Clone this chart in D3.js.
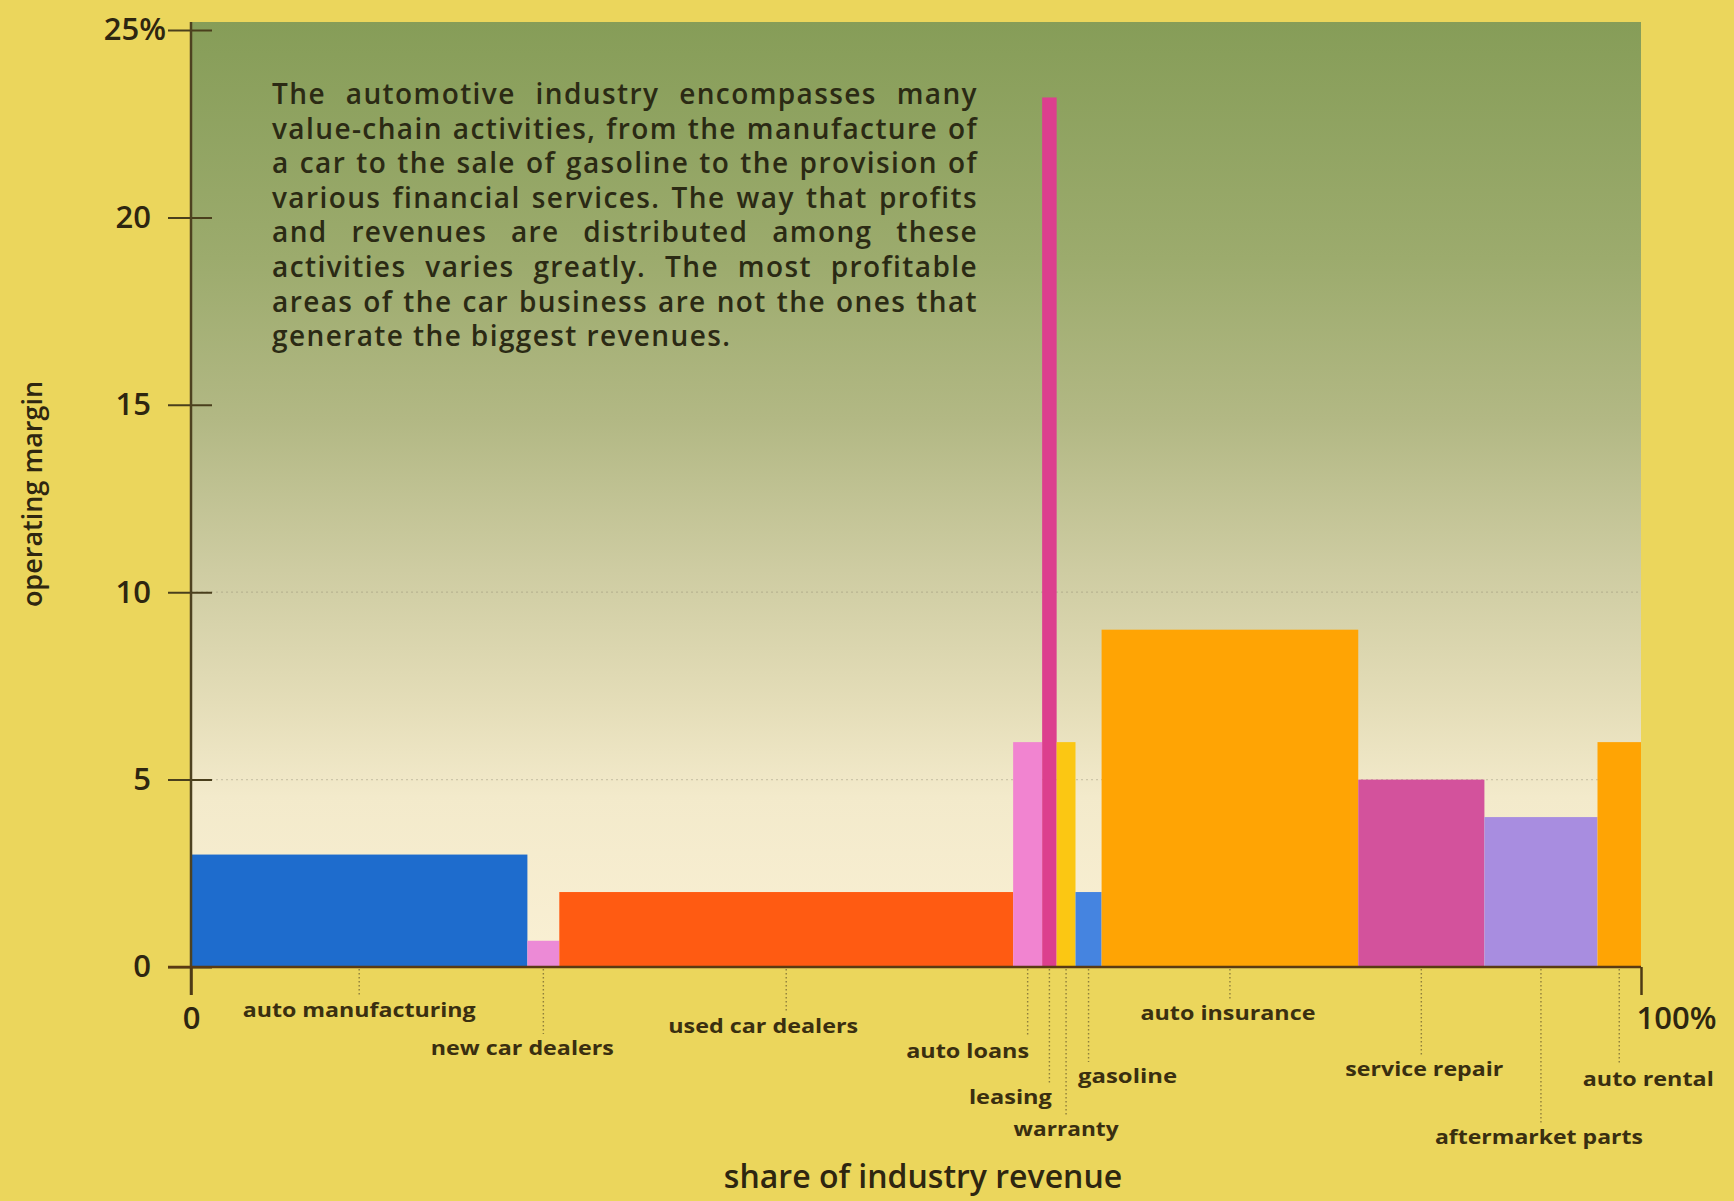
<!DOCTYPE html>
<html><head><meta charset="utf-8">
<script src="https://cdn.jsdelivr.net/npm/d3@7"></script>
<style>
html,body{margin:0;padding:0;background:#ead65f;}
svg{display:block;}
text{font-family:"Open Sans","Noto Sans",sans-serif;}
</style></head><body>
<svg id="chart" width="1734" height="1201"></svg>
<script>
// ---- data ----
const categories = ["auto manufacturing","new car dealers","used car dealers","auto loans","leasing","warranty","gasoline","auto insurance","service repair","aftermarket parts","auto rental"];
const revenueShare = [23.2, 2.2, 31.3, 2.0, 1.0, 1.3, 1.8, 17.7, 8.7, 7.8, 3.0];   // % of industry revenue
const operatingMargin = [3, 0.7, 2, 6, 23.2, 6, 2, 9, 5, 4, 6];                    // %
const yTicks = [0, 5, 10, 15, 20, 25];
const yTickLabels = ["0", "5", "10", "15", "20", "25%"];
const xTicks = [0, 100];
const xTickLabels = ["0", "100%"];
const description = [
  "The automotive industry encompasses many",
  "value-chain activities, from the manufacture of",
  "a car to the sale of gasoline to the provision of",
  "various financial services. The way that profits",
  "and revenues are distributed among these",
  "activities varies greatly. The most profitable",
  "areas of the car business are not the ones that",
  "generate the biggest revenues."
];
const xTitle = "share of industry revenue";
const yTitle = "operating margin";

// ---- styles / layout (kept separate from data) ----
const barColors = ["#1e6ccd","#ec8ad6","#ff5b12","#f184d0","#dc3f8e","#fbc713","#4584e0","#ffa404","#d3529c","#a88de0","#ffa404"];
// label placement: dx from bar centre, y centre, rendered width
const labelLayout = [
  {dx: 0,  y: 1010, w: 233},
  {dx: -21,y: 1048, w: 183},
  {dx: -23,y: 1026, w: 190},
  {dx: -60,y: 1051, w: 123},
  {dx: -39,y: 1097, w: 83},
  {dx: 0,  y: 1129, w: 105},
  {dx: 39, y: 1076, w: 99},
  {dx: -2, y: 1013, w: 175},
  {dx: 3,  y: 1069, w: 158},
  {dx: -2, y: 1137, w: 208},
  {dx: 29, y: 1079, w: 131}
];

const svg = d3.select("#chart");
const W = 1734, H = 1201;
svg.append("rect").attr("width", W).attr("height", H).attr("fill", "#ebd65c");

const x = d3.scaleLinear().domain([0, 100]).range([191, 1641]);
const y = d3.scaleLinear().domain([0, 25]).range([967, 30]);

// gradient plot background
const defs = svg.append("defs");
const grad = defs.append("linearGradient").attr("id", "bg")
  .attr("gradientUnits", "userSpaceOnUse")
  .attr("x1", 0).attr("x2", 0).attr("y1", y(25) - 8).attr("y2", y(0));
[[0,"#869d58"],[0.25,"#9cab6d"],[0.42,"#b2b884"],[0.58,"#cecca2"],[0.72,"#e4ddb8"],[0.82,"#f3eacb"],[1,"#faf0d4"]]
  .forEach(([o,c]) => grad.append("stop").attr("offset", o).attr("stop-color", c));
svg.append("rect")
  .attr("x", x(0)).attr("y", y(25) - 8)
  .attr("width", x(100) - x(0)).attr("height", y(0) - y(25) + 8)
  .attr("fill", "url(#bg)");

// faint dotted gridlines
svg.append("g").selectAll("line").data([5, 10]).join("line")
  .attr("x1", x(0)).attr("x2", x(100))
  .attr("y1", d => y(d)).attr("y2", d => y(d))
  .attr("stroke", "#8a8470").attr("stroke-opacity", 0.35)
  .attr("stroke-dasharray", "2,3").attr("stroke-width", 1.2);

// description paragraph (justified)
const para = svg.append("g");
const pLeft = 272, pRight = 978, pTop = 104, pLead = 34.6;
description.forEach((line, i) => {
  const t = para.append("text")
    .attr("x", pLeft).attr("y", pTop + i * pLead)
    .attr("font-size", 28).attr("font-weight", 600)
    .attr("letter-spacing", 1.4)
    .attr("fill", "#2b2a14")
    .text(line);
  if (i < description.length - 1) {
    const natural = t.node().getComputedTextLength();
    const spaces = (line.match(/ /g) || []).length;
    if (spaces > 0) t.attr("word-spacing", ((pRight - pLeft) - natural) / spaces);
  }
});

// bars
const starts = revenueShare.map((d, i) => d3.sum(revenueShare.slice(0, i)));
svg.append("g").selectAll("rect").data(categories).join("rect")
  .attr("x", (d, i) => x(starts[i]))
  .attr("width", (d, i) => x(starts[i] + revenueShare[i]) - x(starts[i]))
  .attr("y", (d, i) => y(operatingMargin[i]))
  .attr("height", (d, i) => y(0) - y(operatingMargin[i]))
  .attr("fill", (d, i) => barColors[i]);

// leader lines
const centre = i => x(starts[i] + revenueShare[i] / 2);
svg.append("g").selectAll("line").data(categories).join("line")
  .attr("x1", (d, i) => centre(i)).attr("x2", (d, i) => centre(i))
  .attr("y1", y(0) + 2).attr("y2", (d, i) => labelLayout[i].y - 14)
  .attr("stroke", "#6f6230").attr("stroke-opacity", 0.75)
  .attr("stroke-width", 1.4).attr("stroke-dasharray", "1.5,2.5");

// category labels
svg.append("g").selectAll("text").data(categories).join("text")
  .attr("x", (d, i) => centre(i) + labelLayout[i].dx)
  .attr("y", (d, i) => labelLayout[i].y)
  .attr("dy", "0.35em")
  .attr("text-anchor", "middle")
  .attr("font-size", 19).attr("font-weight", 700)
  .attr("fill", "#3a2f10")
  .attr("textLength", (d, i) => labelLayout[i].w)
  .attr("lengthAdjust", "spacingAndGlyphs")
  .text(d => d);

// y axis
const yAxis = d3.axisLeft(y).tickValues(yTicks)
  .tickFormat((d, i) => yTickLabels[i]).tickSize(44).tickPadding(17);
const gy = svg.append("g").attr("transform", "translate(212,0)").call(yAxis);
gy.select(".domain").remove();
gy.selectAll(".tick line").attr("stroke", "#4a3f1c").attr("stroke-width", 2);
gy.selectAll(".tick text")
  .attr("font-size", 31).attr("font-weight", 600).attr("fill", "#2e2610")
  .attr("font-family", "'Open Sans','Noto Sans',sans-serif")
  .attr("dx", d => d === 25 ? 15 : 0);
svg.append("line").attr("x1", x(0)).attr("x2", x(0))
  .attr("y1", y(25) - 8).attr("y2", y(0) + 28)
  .attr("stroke", "#4e4220").attr("stroke-width", 2.5);

// x axis
const xAxis = d3.axisBottom(x).tickValues(xTicks)
  .tickFormat((d, i) => xTickLabels[i]).tickSize(28).tickPadding(12);
const gx = svg.append("g").attr("transform", `translate(0,${y(0)})`).call(xAxis);
gx.select(".domain").remove();
gx.selectAll(".tick line").attr("stroke", "#4e3a14").attr("stroke-width", 2.5);
gx.selectAll(".tick text")
  .attr("font-size", 31).attr("font-weight", 600).attr("fill", "#2e2610")
  .attr("font-family", "'Open Sans','Noto Sans',sans-serif")
  .attr("text-anchor", d => d === 100 ? "start" : "middle")
  .attr("dx", d => d === 100 ? -5 : 0);
svg.append("line").attr("x1", 168).attr("x2", x(100))
  .attr("y1", y(0)).attr("y2", y(0))
  .attr("stroke", "#5a3a12").attr("stroke-width", 2.5);

// axis titles
svg.append("text").attr("x", 923).attr("y", 1188)
  .attr("text-anchor", "middle").attr("font-size", 32).attr("font-weight", 600)
  .attr("fill", "#2e2610").text(xTitle);
svg.append("text").attr("transform", "translate(33,494) rotate(-90)").attr("dy", "0.35em")
  .attr("text-anchor", "middle").attr("font-size", 27).attr("font-weight", 600)
  .attr("fill", "#2e2610").text(yTitle);
</script>
</body></html>
